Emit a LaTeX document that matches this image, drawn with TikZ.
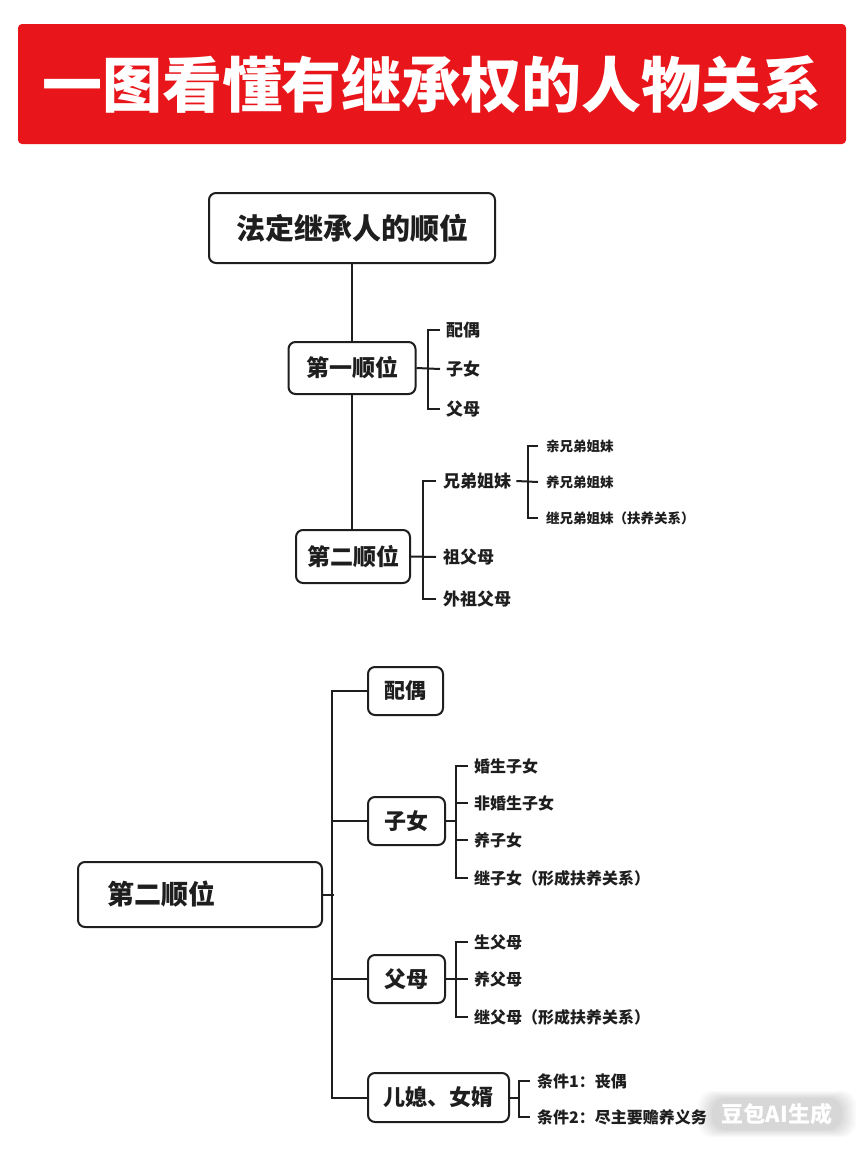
\documentclass[tikz,border=0pt]{standalone}
\usepackage{fontspec}
\setmainfont{Noto Sans CJK SC}
\definecolor{ink}{HTML}{1E1E1E}
\definecolor{titlered}{HTML}{E8161B}
\begin{document}
\begin{tikzpicture}[x=1pt,y=-1pt,
  box/.style={draw=ink,line width=2pt,rounded corners=7pt,fill=white,inner sep=0pt,align=center,text=ink},
  ln/.style={draw=ink,line width=2pt},
  fs/.style={font=\fontsize{#1}{#1}\selectfont\bfseries},
  lbl/.style={anchor=west,inner sep=0pt,text=ink,fs=#1}]
\useasboundingbox (0,0) rectangle (864,1152);
\fill[white] (0,0) rectangle (864,1152);

% title
\node[fill=titlered,rounded corners=4pt,minimum width=828,minimum height=120,inner sep=0pt,
      text=white,fs=60] (title) at (432,84) {一图看懂有继承权的人物关系};

% ---------- upper tree ----------
\node[box,minimum width=286,minimum height=70,fs=29] (root) at (352,228) {法定继承人的顺位};
\node[box,minimum width=127,minimum height=52,fs=23] (p1) at (352,368) {第一顺位};
\node[box,minimum width=114,minimum height=53,fs=23] (p2) at (353,556.5) {第二顺位};
\draw[ln] (root.south) -- (p1.north);
\draw[ln] (p1.south) -- (p1.south |- p2.north);

\node[lbl=17] (a1) at (446,330) {配偶};
\node[lbl=17] (a2) at (446,369) {子女};
\node[lbl=17] (a3) at (446,409) {父母};
\draw[ln] ([xshift=-6pt]a1.west) -- ++(-12,0) |- ([xshift=-6pt]a3.west);
\draw[ln] (p1.east) -- ([xshift=-6pt]a2.west);

\node[lbl=17] (b1) at (443,481) {兄弟姐妹};
\node[lbl=17] (b2) at (443,557) {祖父母};
\node[lbl=17] (b3) at (443,599) {外祖父母};
\draw[ln] ([xshift=-7pt]b1.west) -- ++(-13,0) |- ([xshift=-7pt]b3.west);
\draw[ln] (p2.east) -- ([xshift=-7pt]b2.west);

\node[lbl=13.5] (c1) at (546,446) {亲兄弟姐妹};
\node[lbl=13.5] (c2) at (546,482) {养兄弟姐妹};
\node[lbl=13.5] (c3) at (546,518) {继兄弟姐妹（扶养关系）};
\draw[ln] ([xshift=-8pt]c1.west) -- ++(-10,0) |- ([xshift=-8pt]c3.west);
\draw[ln] ([xshift=5pt]b1.east) -- ([xshift=-8pt]c2.west);

% ---------- lower tree ----------
\node[box,minimum width=244,minimum height=65,text width=186,align=left,fs=27] (big) at (200,894.5) {第二顺位};
\node[box,minimum width=75,minimum height=48,fs=21] (s1) at (405.5,691) {配偶};
\node[box,minimum width=77,minimum height=48,fs=22] (s2) at (406.5,821) {子女};
\node[box,minimum width=77,minimum height=48,fs=22] (s3) at (406.5,979) {父母};
\node[box,minimum width=141,minimum height=49,fs=22] (s4) at (438.5,1097.5) {儿媳、女婿};
\draw[ln] (s1.west) -- ++(-35,0) |- (s4.west);
\draw[ln] (s2.west) -- ++(-35,0);
\draw[ln] (s3.west) -- ++(-35,0);
\draw[ln] (big.east) -- ++(11,0);

\node[lbl=16] (d1) at (474,766) {婚生子女};
\node[lbl=16] (d2) at (474,803) {非婚生子女};
\node[lbl=16] (d3) at (474,840) {养子女};
\node[lbl=16] (d4) at (474,878) {继子女（形成扶养关系）};
\draw[ln] ([xshift=-6pt]d1.west) -- ++(-12,0) |- ([xshift=-6pt]d4.west);
\draw[ln] ([xshift=-6pt]d2.west) -- ++(-12,0);
\draw[ln] ([xshift=-6pt]d3.west) -- ++(-12,0);
\draw[ln] (s2.east) -- ++(11,0);

\node[lbl=16] (e1) at (474,942) {生父母};
\node[lbl=16] (e2) at (474,979) {养父母};
\node[lbl=16] (e3) at (474,1017) {继父母（形成扶养关系）};
\draw[ln] ([xshift=-6pt]e1.west) -- ++(-12,0) |- ([xshift=-6pt]e3.west);
\draw[ln] (s3.east) -- ([xshift=-6pt]e2.west);

\node[lbl=16] (f1) at (537,1081) {条件1：丧偶};
\node[lbl=16] (f2) at (537,1117) {条件2：尽主要赡养义务};
\draw[ln] ([xshift=-7pt]f1.west) -- ++(-11,0) |- ([xshift=-7pt]f2.west);
\draw[ln] (s4.east) -- ++(10,0);

% watermark
\foreach \i in {0,...,7}{
  \fill[black,opacity=0.018,rounded corners=14pt] (712-2*\i,1098-\i) rectangle (842+2*\i,1130+\i);
}
\node[text=white,fs=22,inner sep=0pt] (wm) at (777,1114) {豆包AI生成};
\end{tikzpicture}
\end{document}
